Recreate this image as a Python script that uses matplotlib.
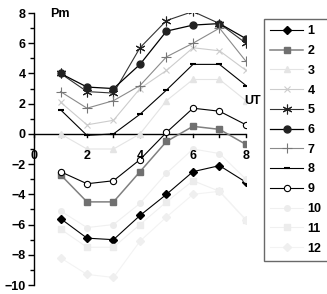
import matplotlib
matplotlib.use("Agg")
import matplotlib.pyplot as plt
from matplotlib.ticker import MultipleLocator

ut = [1, 2, 3, 4, 5, 6, 7, 8]
labels = ["1", "2", "3", "4", "5", "6", "7", "8", "9", "10", "11", "12"]
s1 = [-5.6, -6.9, -7.0, -5.4, -4.0, -2.5, -2.1, -3.2]
s2 = [-2.7, -4.5, -4.5, -2.5, -0.5, 0.5, 0.3, -0.7]
s3 = [0.0, -1.0, -1.0, 0.0, 2.2, 3.6, 3.6, 2.2]
s4 = [2.1, 0.6, 0.9, 3.0, 4.2, 5.7, 5.5, 4.2]
s5 = [4.0, 2.8, 2.7, 5.7, 7.5, 8.1, 7.3, 6.0]
s6 = [4.0, 3.1, 3.0, 4.6, 6.8, 7.2, 7.3, 6.3]
s7 = [2.8, 1.7, 2.2, 3.2, 5.1, 6.0, 7.0, 4.8]
s8 = [1.6, -0.1, 0.0, 1.3, 2.9, 4.6, 4.6, 3.2]
s9 = [-2.5, -3.3, -3.1, -1.7, 0.1, 1.7, 1.5, 0.6]
s10 = [-5.1, -6.2, -6.0, -4.6, -2.6, -1.0, -1.3, -3.0]
s11 = [-6.3, -7.5, -7.5, -6.0, -4.5, -3.1, -3.8, -5.7]
s12 = [-8.2, -9.3, -9.5, -7.1, -5.5, -4.0, -3.8, -5.7]
series = [s1, s2, s3, s4, s5, s6, s7, s8, s9, s10, s11, s12]

styles = [
    dict(color="black", marker="D", ms=4.5, mfc="black", mec="black", lw=0.8),
    dict(color="#808080", marker="s", ms=5, mfc="#707070", mec="#707070", lw=1.1),
    dict(color="#e4e4e4", marker="^", ms=4.5, mfc="#e4e4e4", mec="#e4e4e4", lw=0.8),
    dict(color="#cccccc", marker="x", ms=5, mfc="#cccccc", mec="#cccccc", lw=0.8, mew=0.8),
    dict(color="#333333", marker=(6, 2, 0), ms=7, mfc="#222222", mec="#222222", lw=0.8, mew=0.8),
    dict(color="black", marker="o", ms=5, mfc="#222222", mec="#222222", lw=0.9),
    dict(color="#8a8a8a", marker="+", ms=7, mfc="#777777", mec="#777777", lw=0.8, mew=0.8),
    dict(color="black", marker="_", ms=4, mfc="black", mec="black", lw=0.8, mew=1.5),
    dict(color="black", marker="o", ms=4.5, mfc="white", mec="black", lw=0.8, mew=0.8),
    dict(color="#f0f0f0", marker="o", ms=4, mfc="#ececec", mec="#ececec", lw=0.8),
    dict(color="#f0f0f0", marker="s", ms=4, mfc="#ececec", mec="#ececec", lw=0.8),
    dict(color="#f3f3f3", marker="D", ms=4, mfc="#efefef", mec="#efefef", lw=0.8),
]

plt.rcParams["font.family"] = ["Liberation Sans", "DejaVu Sans"]
fig = plt.figure(figsize=(3.27, 2.94), dpi=100)
ax = fig.add_axes([34 / 327, 1 - 285 / 294, (246 - 34) / 327, (285 - 13) / 294])

for lab, ys, st in zip(labels, series, styles):
    ax.plot(ut, ys, label=lab, **st)

ax.set_xlim(0, 8)
ax.set_ylim(-10, 8)
for sp in ["top", "right", "bottom"]:
    ax.spines[sp].set_visible(False)
ax.spines["left"].set_linewidth(1.0)
ax.axhline(0, color="black", lw=1.0, zorder=1)

ax.yaxis.set_major_locator(MultipleLocator(2))
ax.yaxis.set_minor_locator(MultipleLocator(1))
ax.tick_params(axis="y", which="major", length=4, width=1, direction="out", labelsize=9, pad=2)
ax.tick_params(axis="y", which="minor", length=3, width=1, direction="out")
for t in ax.get_yticklabels():
    t.set_fontweight("bold")

ax.xaxis.set_major_locator(MultipleLocator(2))
ax.xaxis.set_minor_locator(MultipleLocator(1))
ax.tick_params(axis="x", which="both", length=0, labelbottom=False)
for xv in range(0, 9):
    ax.plot([xv, xv], [0, -0.2], color="black", lw=1.0, clip_on=False, zorder=1)
for xv in [0, 2, 4, 6, 8]:
    ax.text(xv, -1.45, str(xv), ha="center", va="center", fontsize=9, fontweight="bold")

ax.text(0.6, 7.95, "Pm", ha="left", va="center", fontsize=9, fontweight="bold")
ax.text(8.25, 2.2, "UT", ha="center", va="center", fontsize=9, fontweight="bold", clip_on=False)

leg = ax.legend(loc="upper left", bbox_to_anchor=(264 / 327, 1 - 19 / 294),
                bbox_transform=fig.transFigure, borderaxespad=0, frameon=True,
                fancybox=False, edgecolor="#444444", fontsize=9, handlelength=2.6,
                labelspacing=0.62, handletextpad=0.4, borderpad=0.5)
leg.get_frame().set_linewidth(1.0)
for t in leg.get_texts():
    t.set_fontweight("bold")

fig.savefig("out.png", dpi=100)
